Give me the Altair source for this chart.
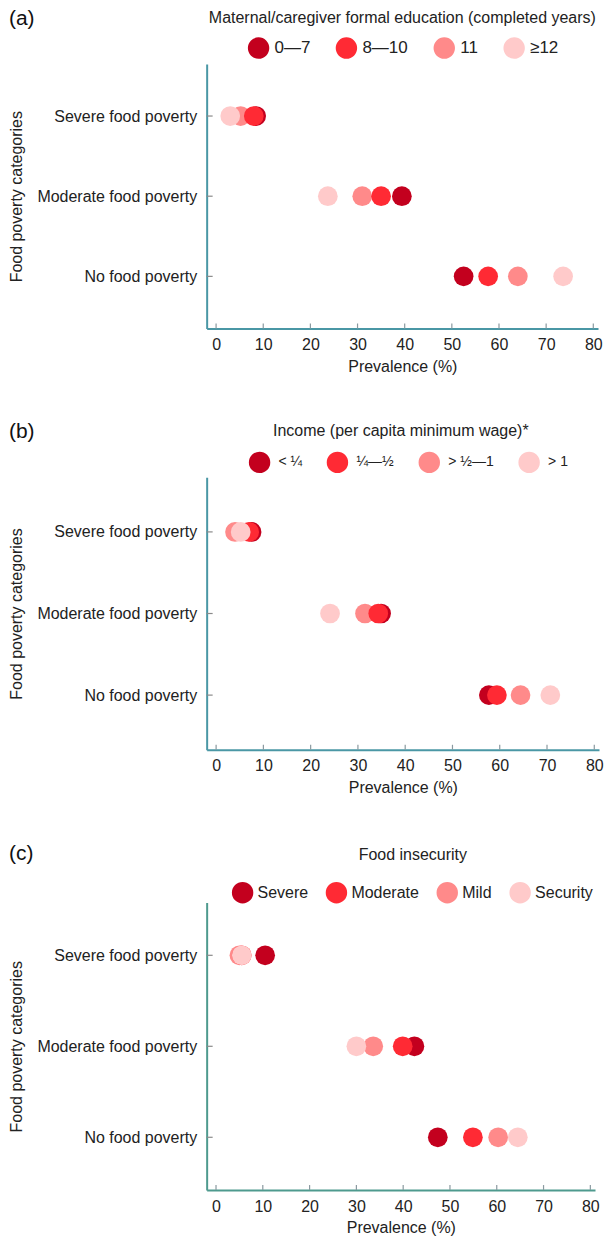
import altair as alt
import pandas as pd

rows = ["Severe food poverty", "Moderate food poverty", "No food poverty"]
x_ticks = [0, 10, 20, 30, 40, 50, 60, 70, 80]

edu_levels = ["0—7", "8—10", "11", "≥12"]
edu_severe = [8.5, 8.0, 5.2, 3.0]
edu_moderate = [39.4, 35.0, 31.0, 23.7]
edu_none = [52.5, 57.7, 64.0, 73.6]

inc_levels = ["< ¼", "¼—½", "> ½—1", "> 1"]
inc_severe = [7.5, 7.0, 4.0, 5.2]
inc_moderate = [34.9, 34.3, 31.5, 24.1]
inc_none = [57.7, 59.4, 64.4, 70.7]

fi_levels = ["Severe", "Moderate", "Mild", "Security"]
fi_severe = [10.5, 5.5, 5.0, 5.5]
fi_moderate = [42.4, 39.9, 33.6, 30.0]
fi_none = [47.4, 54.9, 60.3, 64.5]

colors = ["#C3001E", "#FF2A34", "#FF8A8A", "#FFCACA"]
draw_rank = [0, 2, 1, 3]

FONT = "Liberation Sans"


def make_panel(tag, legend_title, levels, severe, moderate, none, width, height,
               pad, axis_color, legend_x, legend_y, label_size, label_off, col_pad,
               title_offset, title_dx, tag_y):
    recs = []
    for vals, row in zip([severe, moderate, none], rows):
        for lvl, v, rk in zip(levels, vals, draw_rank):
            recs.append({"row": row, "level": lvl, "value": v, "rank": rk})
    df = pd.DataFrame(recs)

    xscale = alt.Scale(domain=[-2, 81], nice=False, zero=False)
    yscale = alt.Scale(type="point", domain=rows, padding=pad)

    pts = alt.Chart(df).mark_circle(size=390, opacity=1).encode(
        x=alt.X("value:Q", scale=xscale,
                axis=alt.Axis(values=x_ticks, title="Prevalence (%)", grid=False,
                              tickSize=0, domainColor=axis_color, domainWidth=2,
                              labelPadding=8, titlePadding=6,
                              labelFont=FONT, titleFont=FONT, labelFontSize=16,
                              titleFontSize=16, labelColor="#222", titleColor="#222",
                              titleFontWeight="normal")),
        y=alt.Y("row:N", scale=yscale, sort=rows,
                axis=alt.Axis(title="Food poverty categories", tickSize=0,
                              domainColor=axis_color, domainWidth=2,
                              labelPadding=10, titlePadding=12, labelLimit=400,
                              labelFont=FONT, titleFont=FONT, labelFontSize=16,
                              titleFontSize=16, labelColor="#222", titleColor="#222",
                              titleFontWeight="normal")),
        color=alt.Color("level:N", scale=alt.Scale(domain=levels, range=colors),
                        sort=levels,
                        legend=alt.Legend(title=None, orient="none",
                                          direction="horizontal",
                                          legendX=legend_x, legendY=legend_y,
                                          labelLimit=200,
                                          labelFontSize=label_size, labelFont=FONT,
                                          labelColor="#222", labelOffset=label_off,
                                          symbolSize=460, symbolType="circle",
                                          symbolStrokeWidth=0, columnPadding=col_pad)),
        order=alt.Order("rank:Q"),
    )

    ytick_df = pd.DataFrame({"row": rows})
    yticks = alt.Chart(ytick_df).mark_rule(color="#8a8a8a", strokeWidth=1.2).encode(
        y=alt.Y("row:N", scale=yscale, sort=rows),
        x=alt.value(0), x2=alt.value(6),
    )
    xtick_df = pd.DataFrame({"tick": x_ticks})
    xticks = alt.Chart(xtick_df).mark_rule(color="#8a9aa0", strokeWidth=1.2).encode(
        x=alt.X("tick:Q", scale=xscale),
        y=alt.value(height), y2=alt.value(height - 5),
    )
    tag_df = pd.DataFrame({"tag": [tag]})
    tag_text = alt.Chart(tag_df).mark_text(
        align="left", baseline="middle", fontSize=21, font=FONT, color="#111"
    ).encode(text="tag:N", x=alt.value(-198), y=alt.value(tag_y))

    return alt.layer(yticks, xticks, pts, tag_text).properties(
        width=width, height=height,
        title=alt.TitleParams(legend_title, anchor="middle", fontSize=16,
                              fontWeight="normal", font=FONT, color="#222",
                              offset=title_offset, dx=title_dx, frame="group"),
    )


pa = make_panel("(a)", "Maternal/caregiver formal education (completed years)",
                edu_levels, edu_severe, edu_moderate, edu_none,
                392, 265, 0.65, "#4A97A5", 41, -27, 17, 5, 25, -18, 0, -45)
pb = make_panel("(b)", "Income (per capita minimum wage)*",
                inc_levels, inc_severe, inc_moderate, inc_none,
                393, 273, 0.67, "#4A97A5", 42, -26, 14, 8, 24, -18, -2, -45)
pc = make_panel("(c)", "Food insecurity",
                fi_levels, fi_severe, fi_moderate, fi_none,
                389, 288, 0.58, "#4E9A8E", 25, -21, 16, 4, 17, -20, 12, -49)

chart = alt.vconcat(pa, pb, pc, spacing=47).resolve_scale(
    color="independent", x="independent", y="independent"
).properties(
    padding={"left": 8, "top": 7, "right": 0, "bottom": 0},
    background="white",
).configure_view(stroke=None)

chart.save("out.html", embed_options={"renderer": "svg", "actions": False})
